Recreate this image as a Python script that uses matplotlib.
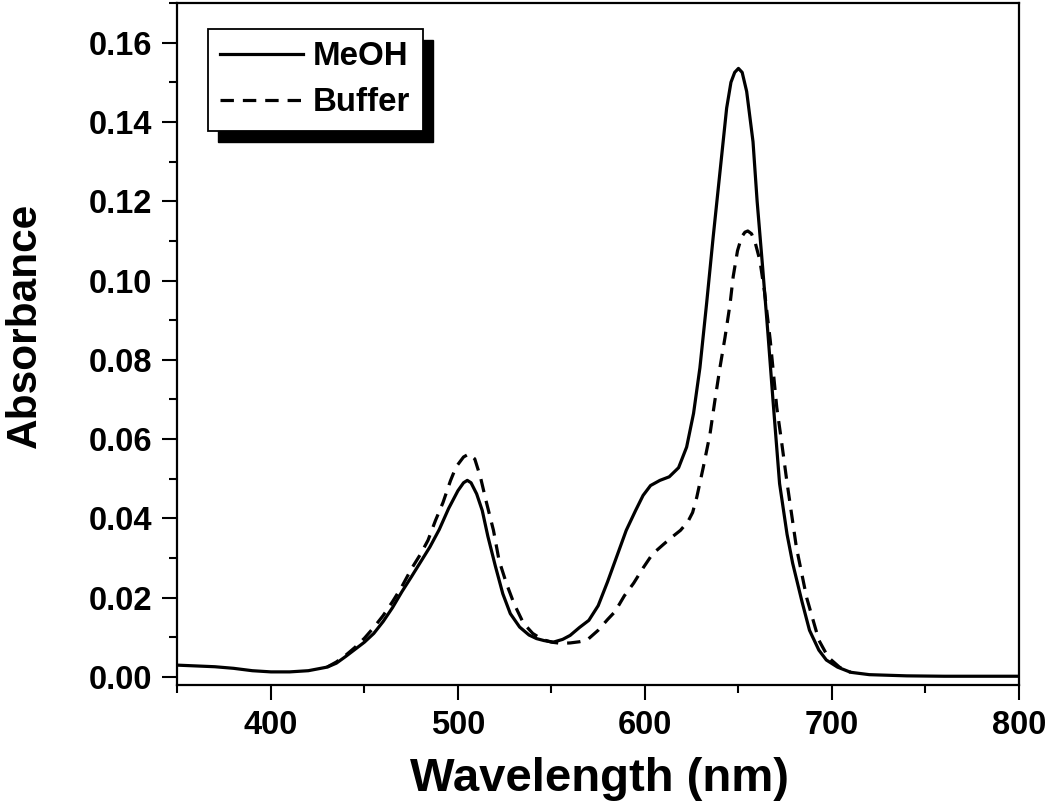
import matplotlib
matplotlib.use('Agg')
import matplotlib.pyplot as plt
from matplotlib.patches import Rectangle
from matplotlib.ticker import MultipleLocator, FormatStrFormatter, FixedLocator

# ---------------- data ----------------
wl_meoh = [350, 360, 370, 380, 390, 400, 410, 420, 430, 435, 440, 445, 450, 455,
           460, 465, 470, 475, 480, 485, 490, 495, 500, 503, 505, 507, 510, 513,
           516, 520, 524, 528, 533, 538, 542, 546, 551, 556, 560, 565, 570, 575,
           580, 585, 590, 595, 599, 603, 608, 613, 618, 622.3, 626, 629.4, 633, 636.5,
           640, 643.7, 646, 648, 650, 652, 654.4, 657.8, 660, 663, 665.8, 668.5,
           672, 676, 679, 684, 688, 693, 697, 703, 710, 720, 740, 760, 780, 800]
abs_meoh = [0.0030, 0.0028, 0.0026, 0.0022, 0.0016, 0.0013, 0.0013, 0.0016, 0.0025,
            0.0035, 0.0052, 0.0070, 0.0088, 0.0110, 0.0140, 0.0175, 0.0215, 0.0252,
            0.0290, 0.0328, 0.0372, 0.0425, 0.0470, 0.0490, 0.0496, 0.0490, 0.0462,
            0.0420, 0.0355, 0.0280, 0.0210, 0.0160, 0.0126, 0.0106, 0.0097, 0.0092,
            0.0088, 0.0095, 0.0105, 0.0125, 0.0143, 0.0180, 0.0240, 0.0305, 0.0370,
            0.0420, 0.0458, 0.0483, 0.0496, 0.0505, 0.0528, 0.0580, 0.0665, 0.0780,
            0.0943, 0.1110, 0.1268, 0.1435, 0.1500, 0.1525, 0.1535, 0.1525, 0.1477,
            0.1350, 0.1200, 0.1030, 0.0865, 0.0697, 0.0488, 0.0360, 0.0287, 0.0190,
            0.0118, 0.0068, 0.0043, 0.0025, 0.0012, 0.0006, 0.0003, 0.0002, 0.0002,
            0.0002]

wl_buffer = [430, 435, 440, 445, 450, 455, 460, 465, 470, 475, 480, 484, 488, 492,
             496, 499, 503, 506, 509, 512, 515, 519, 522, 526, 530, 535, 540, 545,
             550, 555, 560, 565, 569, 575, 580, 584, 589, 594, 599, 604, 610, 615,
             619, 623, 625.5, 627.7, 631.2, 634.8, 637.4, 640.1, 642.8, 645.5, 647.2,
             649.5, 651.7, 653.5, 655, 657, 659, 661.5, 664, 667, 670.5, 673, 676,
             681, 686.5, 693, 698, 704, 710]
abs_buffer = [0.0025, 0.0038, 0.0055, 0.0075, 0.0098, 0.0125, 0.0155, 0.0190, 0.0228,
              0.0272, 0.0310, 0.0345, 0.0395, 0.0440, 0.0495, 0.0530, 0.0555, 0.0563,
              0.0550, 0.0505, 0.0445, 0.0370, 0.0294, 0.0235, 0.0185, 0.0136, 0.0110,
              0.0095, 0.0088, 0.0085, 0.0086, 0.0089, 0.0093, 0.0118, 0.0145, 0.0165,
              0.0205, 0.0237, 0.0275, 0.0310, 0.0335, 0.0355, 0.0370, 0.0392, 0.0415,
              0.0453, 0.0529, 0.0613, 0.0697, 0.0780, 0.0856, 0.0940, 0.1010, 0.1075,
              0.1110, 0.1122, 0.1125, 0.1118, 0.1095, 0.1050, 0.0970, 0.0850, 0.0680,
              0.0596, 0.0490, 0.0327, 0.0200, 0.0093, 0.0050, 0.0025, 0.0012]

series_labels = ['MeOH', 'Buffer']
x_ticks = [400, 500, 600, 700, 800]
y_ticks = [0.00, 0.02, 0.04, 0.06, 0.08, 0.10, 0.12, 0.14, 0.16]
x_label = 'Wavelength (nm)'
y_label = 'Absorbance'

# ---------------- style ----------------
plt.rcParams['font.family'] = ['Liberation Sans', 'DejaVu Sans']
plt.rcParams['font.weight'] = 'bold'

fig = plt.figure(figsize=(10.5, 8.11), dpi=100)
ax = fig.add_axes([0.169, 0.1554, 0.8014, 0.8409])

ax.plot(wl_meoh, abs_meoh, color='black', lw=2.3, ls='-', label=series_labels[0],
        solid_joinstyle='round')
ax.plot(wl_buffer, abs_buffer, color='black', lw=2.3, ls=(0, (4.2, 2.8)),
        label=series_labels[1])

ax.set_xlim(350, 800)
ax.set_ylim(-0.002, 0.170)
ax.xaxis.set_major_locator(FixedLocator(x_ticks))
ax.xaxis.set_minor_locator(MultipleLocator(50))
ax.yaxis.set_major_locator(FixedLocator(y_ticks))
ax.yaxis.set_minor_locator(MultipleLocator(0.01))
ax.yaxis.set_major_formatter(FormatStrFormatter('%.2f'))

for s in ax.spines.values():
    s.set_linewidth(1.6)

ax.tick_params(axis='both', which='major', direction='out', length=11, width=1.5,
               labelsize=23.5, pad=7)
ax.tick_params(axis='both', which='minor', direction='out', length=6, width=1.5)
ax.tick_params(top=False, right=False)
for lab in ax.get_xticklabels() + ax.get_yticklabels():
    lab.set_fontweight('bold')

ax.set_xlabel(x_label, fontsize=34, fontweight='bold')
ax.set_ylabel(y_label, fontsize=30.5, fontweight='bold')
ax.xaxis.set_label_coords(0.501, -0.106)
ax.yaxis.set_label_coords(-0.158, 0.528)

leg = ax.legend(loc='upper left', bbox_to_anchor=(0.036, 0.962), borderaxespad=0,
                fontsize=23.8, frameon=True, fancybox=False, handlelength=2.5,
                handletextpad=0.3, labelspacing=0.45, borderpad=0.38)
leg.get_frame().set_edgecolor('black')
leg.get_frame().set_linewidth(1.3)
leg.get_frame().set_alpha(1)
for t in leg.get_texts():
    t.set_fontweight('bold')

fig.canvas.draw()
bb = leg.get_window_extent().transformed(fig.transFigure.inverted())
off_x = 10 / 1050
off_y = 11 / 811
shadow = Rectangle((bb.x0 + off_x, bb.y0 - off_y), bb.width, bb.height,
                   transform=fig.transFigure, facecolor='black', edgecolor='black',
                   clip_on=False, zorder=4.9)
ax.add_patch(shadow)
ax.set_xlim(350, 800)
ax.set_ylim(-0.002, 0.170)

fig.savefig('out.png', dpi=100)
